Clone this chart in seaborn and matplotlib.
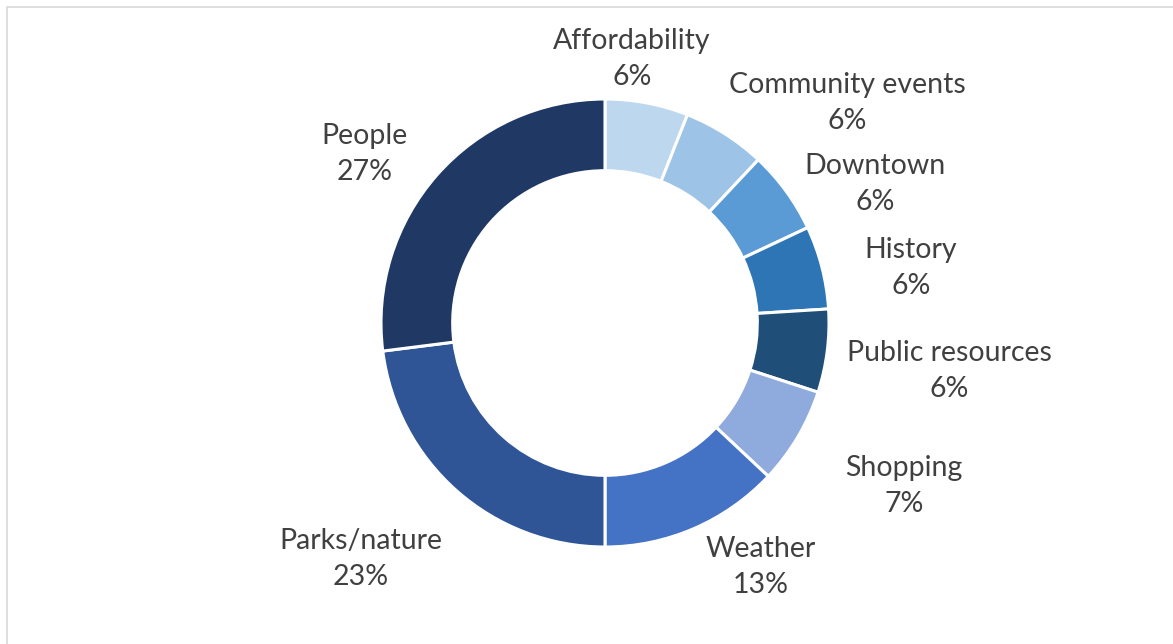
import matplotlib

matplotlib.use("Agg")
import matplotlib.pyplot as plt
import seaborn as sns
from matplotlib.patches import Rectangle

# data
categories = ["Affordability", "Community events", "Downtown", "History",
              "Public resources", "Shopping", "Weather", "Parks/nature", "People"]
shares = [6, 6, 6, 6, 6, 7, 13, 23, 27]
colors = ["#BDD7EE", "#9DC3E6", "#5B9BD5", "#2E75B6", "#1F4E79",
          "#8FAADC", "#4472C4", "#2F5597", "#203864"]

# label centres in pixels (x, y from top) - layout only
label_pos = [(632, 59), (847, 103), (875, 184), (911, 268), (949, 371),
             (904, 486), (761, 567), (361, 559), (365, 154)]

sns.set_theme(style="white")
plt.rcParams["font.family"] = ["Lato", "DejaVu Sans"]

W, H = 1173, 644
fig = plt.figure(figsize=(W / 100, H / 100), dpi=100)
ax = fig.add_axes([0, 0, 1, 1])
ax.set_xlim(0, W)
ax.set_ylim(0, H)
ax.set_aspect("equal")
ax.axis("off")

# chart area border
ax.add_patch(Rectangle((7, -10), W + 20, H - 7 + 10, fill=False,
                       edgecolor="#D9D9D9", linewidth=1.2))

cx, cy, r = 605, H - 323, 224
ax.pie(shares, colors=colors, startangle=90, counterclock=False,
       center=(cx, cy), radius=r,
       wedgeprops=dict(width=r * 0.32, edgecolor="white", linewidth=2.2))
ax.set_xlim(0, W)
ax.set_ylim(0, H)

for name, val, (x, y) in zip(categories, shares, label_pos):
    ax.text(x, H - y, f"{name}\n{val}%", ha="center", va="center",
            fontsize=20.5, color="#404040", linespacing=1.5)

fig.savefig("out.png", dpi=100)
